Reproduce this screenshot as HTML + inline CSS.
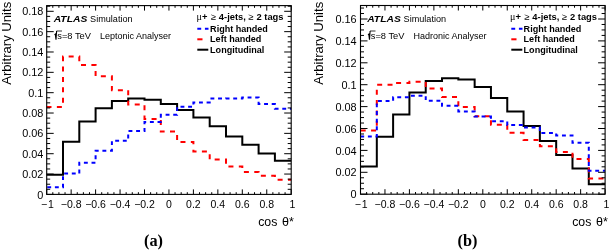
<!DOCTYPE html><html><head><meta charset="utf-8"><style>html,body{margin:0;padding:0;background:#fff;}body{width:610px;height:250px;overflow:hidden;}svg{display:block;will-change:transform;}text{font-family:"Liberation Sans", sans-serif;}.serif{font-family:"Liberation Serif", serif;}</style></head><body>
<svg width="610" height="250" viewBox="0 0 610 250">
<rect width="610" height="250" fill="#fff"/>
<path d="M46.7 174.8 L63 174.8 L63 141.8 L79.3 141.8 L79.3 121.6 L95.6 121.6 L95.6 108.2 L111.9 108.2 L111.9 100.9 L128.2 100.9 L128.2 98.6 L144.5 98.6 L144.5 99.8 L160.8 99.8 L160.8 104.1 L177.1 104.1 L177.1 110 L193.4 110 L193.4 117.6 L209.7 117.6 L209.7 126.2 L226 126.2 L226 136.4 L242.3 136.4 L242.3 144.8 L258.6 144.8 L258.6 153.4 L274.9 153.4 L274.9 160.7 L291.2 160.7" fill="none" stroke="#000" stroke-width="2"/>
<path d="M46.7 107 L63 107 L63 56.5 L79.3 56.5 L79.3 64.9 L95.6 64.9 L95.6 76.2 L111.9 76.2 L111.9 90.3 L128.2 90.3 L128.2 104.6 L144.5 104.6 L144.5 118.9 L160.8 118.9 L160.8 131.6 L177.1 131.6 L177.1 141.9 L193.4 141.9 L193.4 151.6 L209.7 151.6 L209.7 159.6 L226 159.6 L226 166.6 L242.3 166.6 L242.3 171.9 L258.6 171.9 L258.6 175.7 L274.9 175.7 L274.9 179.7 L291.2 179.7" fill="none" stroke="#ff0000" stroke-width="2" stroke-dasharray="5 5.38" stroke-dashoffset="83.25"/>
<path d="M46.7 187.2 L63 187.2 L63 173.6 L79.3 173.6 L79.3 162.8 L95.6 162.8 L95.6 150.8 L111.9 150.8 L111.9 140.7 L128.2 140.7 L128.2 131.1 L144.5 131.1 L144.5 122 L160.8 122 L160.8 114.8 L177.1 114.8 L177.1 106.8 L193.4 106.8 L193.4 102.4 L209.7 102.4 L209.7 98.6 L226 98.6 L226 98.5 L242.3 98.5 L242.3 97.6 L258.6 97.6 L258.6 104 L274.9 104 L274.9 108.7 L291.2 108.7" fill="none" stroke="#0000ff" stroke-width="2" stroke-dasharray="3.9 3.73" stroke-dashoffset="-0.55"/>
<rect x="46.7" y="5.6" width="244.5" height="188.8" fill="none" stroke="#000" stroke-width="1.1"/>
<path d="M46.7 194.4 V189.4 M46.7 5.6 V10.6 M52.81 194.4 V192.2 M52.81 5.6 V7.8 M58.92 194.4 V192.2 M58.92 5.6 V7.8 M65.04 194.4 V192.2 M65.04 5.6 V7.8 M71.15 194.4 V189.4 M71.15 5.6 V10.6 M77.26 194.4 V192.2 M77.26 5.6 V7.8 M83.38 194.4 V192.2 M83.38 5.6 V7.8 M89.49 194.4 V192.2 M89.49 5.6 V7.8 M95.6 194.4 V189.4 M95.6 5.6 V10.6 M101.71 194.4 V192.2 M101.71 5.6 V7.8 M107.83 194.4 V192.2 M107.83 5.6 V7.8 M113.94 194.4 V192.2 M113.94 5.6 V7.8 M120.05 194.4 V189.4 M120.05 5.6 V10.6 M126.16 194.4 V192.2 M126.16 5.6 V7.8 M132.28 194.4 V192.2 M132.28 5.6 V7.8 M138.39 194.4 V192.2 M138.39 5.6 V7.8 M144.5 194.4 V189.4 M144.5 5.6 V10.6 M150.61 194.4 V192.2 M150.61 5.6 V7.8 M156.73 194.4 V192.2 M156.73 5.6 V7.8 M162.84 194.4 V192.2 M162.84 5.6 V7.8 M168.95 194.4 V189.4 M168.95 5.6 V10.6 M175.06 194.4 V192.2 M175.06 5.6 V7.8 M181.18 194.4 V192.2 M181.18 5.6 V7.8 M187.29 194.4 V192.2 M187.29 5.6 V7.8 M193.4 194.4 V189.4 M193.4 5.6 V10.6 M199.51 194.4 V192.2 M199.51 5.6 V7.8 M205.62 194.4 V192.2 M205.62 5.6 V7.8 M211.74 194.4 V192.2 M211.74 5.6 V7.8 M217.85 194.4 V189.4 M217.85 5.6 V10.6 M223.96 194.4 V192.2 M223.96 5.6 V7.8 M230.07 194.4 V192.2 M230.07 5.6 V7.8 M236.19 194.4 V192.2 M236.19 5.6 V7.8 M242.3 194.4 V189.4 M242.3 5.6 V10.6 M248.41 194.4 V192.2 M248.41 5.6 V7.8 M254.53 194.4 V192.2 M254.53 5.6 V7.8 M260.64 194.4 V192.2 M260.64 5.6 V7.8 M266.75 194.4 V189.4 M266.75 5.6 V10.6 M272.86 194.4 V192.2 M272.86 5.6 V7.8 M278.98 194.4 V192.2 M278.98 5.6 V7.8 M285.09 194.4 V192.2 M285.09 5.6 V7.8 M291.2 194.4 V189.4 M291.2 5.6 V10.6 M46.7 194.4 H53.7 M291.2 194.4 H284.2 M46.7 189.31 H50.2 M291.2 189.31 H287.7 M46.7 184.23 H50.2 M291.2 184.23 H287.7 M46.7 179.14 H50.2 M291.2 179.14 H287.7 M46.7 174.06 H53.7 M291.2 174.06 H284.2 M46.7 168.97 H50.2 M291.2 168.97 H287.7 M46.7 163.88 H50.2 M291.2 163.88 H287.7 M46.7 158.8 H50.2 M291.2 158.8 H287.7 M46.7 153.71 H53.7 M291.2 153.71 H284.2 M46.7 148.63 H50.2 M291.2 148.63 H287.7 M46.7 143.54 H50.2 M291.2 143.54 H287.7 M46.7 138.45 H50.2 M291.2 138.45 H287.7 M46.7 133.37 H53.7 M291.2 133.37 H284.2 M46.7 128.28 H50.2 M291.2 128.28 H287.7 M46.7 123.2 H50.2 M291.2 123.2 H287.7 M46.7 118.11 H50.2 M291.2 118.11 H287.7 M46.7 113.02 H53.7 M291.2 113.02 H284.2 M46.7 107.94 H50.2 M291.2 107.94 H287.7 M46.7 102.85 H50.2 M291.2 102.85 H287.7 M46.7 97.77 H50.2 M291.2 97.77 H287.7 M46.7 92.68 H53.7 M291.2 92.68 H284.2 M46.7 87.59 H50.2 M291.2 87.59 H287.7 M46.7 82.51 H50.2 M291.2 82.51 H287.7 M46.7 77.42 H50.2 M291.2 77.42 H287.7 M46.7 72.34 H53.7 M291.2 72.34 H284.2 M46.7 67.25 H50.2 M291.2 67.25 H287.7 M46.7 62.16 H50.2 M291.2 62.16 H287.7 M46.7 57.08 H50.2 M291.2 57.08 H287.7 M46.7 51.99 H53.7 M291.2 51.99 H284.2 M46.7 46.91 H50.2 M291.2 46.91 H287.7 M46.7 41.82 H50.2 M291.2 41.82 H287.7 M46.7 36.73 H50.2 M291.2 36.73 H287.7 M46.7 31.65 H53.7 M291.2 31.65 H284.2 M46.7 26.56 H50.2 M291.2 26.56 H287.7 M46.7 21.48 H50.2 M291.2 21.48 H287.7 M46.7 16.39 H50.2 M291.2 16.39 H287.7 M46.7 11.3 H53.7 M291.2 11.3 H284.2 M46.7 6.22 H50.2 M291.2 6.22 H287.7" fill="none" stroke="#000" stroke-width="1"/>
<text x="47.4" y="207.8" font-size="10.5" text-anchor="middle">−<tspan dx="0.8">1</tspan></text>
<text x="71.15" y="207.8" font-size="10.5" text-anchor="middle">−0.8</text>
<text x="95.6" y="207.8" font-size="10.5" text-anchor="middle">−0.6</text>
<text x="120.05" y="207.8" font-size="10.5" text-anchor="middle">−0.4</text>
<text x="144.5" y="207.8" font-size="10.5" text-anchor="middle">−0.2</text>
<text x="168.95" y="207.8" font-size="10.5" text-anchor="middle">0</text>
<text x="193.4" y="207.8" font-size="10.5" text-anchor="middle">0.2</text>
<text x="217.85" y="207.8" font-size="10.5" text-anchor="middle">0.4</text>
<text x="242.3" y="207.8" font-size="10.5" text-anchor="middle">0.6</text>
<text x="266.75" y="207.8" font-size="10.5" text-anchor="middle">0.8</text>
<text x="292.5" y="207.8" font-size="10.5" text-anchor="middle">1</text>
<text x="43.4" y="198.5" font-size="10.9" text-anchor="end">0</text>
<text x="43.4" y="178.16" font-size="10.9" text-anchor="end">0.02</text>
<text x="43.4" y="157.81" font-size="10.9" text-anchor="end">0.04</text>
<text x="43.4" y="137.47" font-size="10.9" text-anchor="end">0.06</text>
<text x="43.4" y="117.12" font-size="10.9" text-anchor="end">0.08</text>
<text x="43.4" y="96.78" font-size="10.9" text-anchor="end">0.1</text>
<text x="43.4" y="76.44" font-size="10.9" text-anchor="end">0.12</text>
<text x="43.4" y="56.09" font-size="10.9" text-anchor="end">0.14</text>
<text x="43.4" y="35.75" font-size="10.9" text-anchor="end">0.16</text>
<text x="43.4" y="15.4" font-size="10.9" text-anchor="end">0.18</text>
<text y="225.6" font-size="12.3"><tspan x="258.2">cos</tspan><tspan x="282.1" font-size="12.5">θ*</tspan></text>
<text transform="translate(10.8,1.8) rotate(-90)" font-size="13.1" text-anchor="end">Arbitrary Units</text>
<text x="53.7" y="21.8" font-size="9.4" font-weight="bold" font-style="italic" textLength="33.6" lengthAdjust="spacingAndGlyphs">ATLAS</text>
<text x="90.1" y="21.8" font-size="9.1">Simulation</text>
<path d="M54.5 34.9 L55.3 34.2 L56 39.8 L56.6 31" fill="none" stroke="#000" stroke-width="1.1" stroke-linejoin="miter"/>
<path d="M56.5 31 H62" fill="none" stroke="#000" stroke-width="0.8"/>
<text x="57.3" y="38.7" font-size="9.3">s=8 TeV</text>
<text x="100" y="38.7" font-size="9">Leptonic Analyser</text>
<text x="196.5" y="19.6" font-size="9.35" font-weight="bold"><tspan class="serif" font-weight="normal" font-size="10">μ</tspan>+ <tspan font-weight="normal" dx="0.8">≥</tspan><tspan dx="0.4"> 4-jets, </tspan><tspan font-weight="normal" dx="-0.3">≥</tspan><tspan dx="0.6"> 2 tags</tspan></text>
<path d="M197.3 28.7 H208.5" stroke="#0000ff" stroke-width="2" stroke-dasharray="3.9 3.725"/>
<path d="M197.3 39.3 H202.5" stroke="#ff0000" stroke-width="2"/>
<path d="M197.3 49.7 H208.3" stroke="#000" stroke-width="2"/>
<text x="210.1" y="31.5" font-size="9.05" font-weight="bold">Right handed</text>
<text x="210.1" y="41.9" font-size="9.05" font-weight="bold">Left handed</text>
<text x="210.1" y="52.5" font-size="9.05" font-weight="bold">Longitudinal</text>
<text x="153.5" y="246.2" font-size="16.3" font-weight="bold" class="serif" text-anchor="middle">(a)</text>
<path d="M360.5 166.6 L376.81 166.6 L376.81 136.8 L393.11 136.8 L393.11 114.6 L409.42 114.6 L409.42 92.4 L425.73 92.4 L425.73 81 L442.03 81 L442.03 78.2 L458.34 78.2 L458.34 79.6 L474.65 79.6 L474.65 87.1 L490.95 87.1 L490.95 98 L507.26 98 L507.26 111.4 L523.57 111.4 L523.57 126.1 L539.87 126.1 L539.87 140.9 L556.18 140.9 L556.18 154.9 L572.49 154.9 L572.49 168.5 L588.79 168.5 L588.79 184.2 L605.1 184.2" fill="none" stroke="#000" stroke-width="2"/>
<path d="M360.5 130.4 L376.81 130.4 L376.81 84.7 L393.11 84.7 L393.11 82.9 L409.42 82.9 L409.42 81.7 L425.73 81.7 L425.73 88.5 L442.03 88.5 L442.03 97.1 L458.34 97.1 L458.34 107 L474.65 107 L474.65 116.3 L490.95 116.3 L490.95 124.8 L507.26 124.8 L507.26 132.8 L523.57 132.8 L523.57 139.9 L539.87 139.9 L539.87 146.3 L556.18 146.3 L556.18 152 L572.49 152 L572.49 159.1 L588.79 159.1 L588.79 178.6 L605.1 178.6" fill="none" stroke="#ff0000" stroke-width="2" stroke-dasharray="5 5.36" stroke-dashoffset="61.95"/>
<path d="M360.5 136.6 L376.81 136.6 L376.81 100.9 L393.11 100.9 L393.11 97.3 L409.42 97.3 L409.42 95.7 L425.73 95.7 L425.73 100.7 L442.03 100.7 L442.03 105.8 L458.34 105.8 L458.34 111.4 L474.65 111.4 L474.65 116.6 L490.95 116.6 L490.95 121.3 L507.26 121.3 L507.26 125.1 L523.57 125.1 L523.57 127.6 L539.87 127.6 L539.87 133.1 L556.18 133.1 L556.18 135.4 L572.49 135.4 L572.49 142.7 L588.79 142.7 L588.79 170.8 L605.1 170.8" fill="none" stroke="#0000ff" stroke-width="2" stroke-dasharray="3.9 3.73" stroke-dashoffset="53.65"/>
<rect x="360.5" y="5.5" width="244.6" height="188.7" fill="none" stroke="#000" stroke-width="1.1"/>
<path d="M360.5 194.2 V189.2 M360.5 5.5 V10.5 M366.62 194.2 V192 M366.62 5.5 V7.7 M372.73 194.2 V192 M372.73 5.5 V7.7 M378.85 194.2 V192 M378.85 5.5 V7.7 M384.96 194.2 V189.2 M384.96 5.5 V10.5 M391.07 194.2 V192 M391.07 5.5 V7.7 M397.19 194.2 V192 M397.19 5.5 V7.7 M403.31 194.2 V192 M403.31 5.5 V7.7 M409.42 194.2 V189.2 M409.42 5.5 V10.5 M415.53 194.2 V192 M415.53 5.5 V7.7 M421.65 194.2 V192 M421.65 5.5 V7.7 M427.76 194.2 V192 M427.76 5.5 V7.7 M433.88 194.2 V189.2 M433.88 5.5 V10.5 M440 194.2 V192 M440 5.5 V7.7 M446.11 194.2 V192 M446.11 5.5 V7.7 M452.23 194.2 V192 M452.23 5.5 V7.7 M458.34 194.2 V189.2 M458.34 5.5 V10.5 M464.46 194.2 V192 M464.46 5.5 V7.7 M470.57 194.2 V192 M470.57 5.5 V7.7 M476.69 194.2 V192 M476.69 5.5 V7.7 M482.8 194.2 V189.2 M482.8 5.5 V10.5 M488.92 194.2 V192 M488.92 5.5 V7.7 M495.03 194.2 V192 M495.03 5.5 V7.7 M501.15 194.2 V192 M501.15 5.5 V7.7 M507.26 194.2 V189.2 M507.26 5.5 V10.5 M513.38 194.2 V192 M513.38 5.5 V7.7 M519.49 194.2 V192 M519.49 5.5 V7.7 M525.61 194.2 V192 M525.61 5.5 V7.7 M531.72 194.2 V189.2 M531.72 5.5 V10.5 M537.84 194.2 V192 M537.84 5.5 V7.7 M543.95 194.2 V192 M543.95 5.5 V7.7 M550.07 194.2 V192 M550.07 5.5 V7.7 M556.18 194.2 V189.2 M556.18 5.5 V10.5 M562.3 194.2 V192 M562.3 5.5 V7.7 M568.41 194.2 V192 M568.41 5.5 V7.7 M574.53 194.2 V192 M574.53 5.5 V7.7 M580.64 194.2 V189.2 M580.64 5.5 V10.5 M586.75 194.2 V192 M586.75 5.5 V7.7 M592.87 194.2 V192 M592.87 5.5 V7.7 M598.99 194.2 V192 M598.99 5.5 V7.7 M605.1 194.2 V189.2 M605.1 5.5 V10.5 M360.5 194.2 H367.5 M605.1 194.2 H598.1 M360.5 188.72 H364 M605.1 188.72 H601.6 M360.5 183.25 H364 M605.1 183.25 H601.6 M360.5 177.77 H364 M605.1 177.77 H601.6 M360.5 172.3 H367.5 M605.1 172.3 H598.1 M360.5 166.82 H364 M605.1 166.82 H601.6 M360.5 161.35 H364 M605.1 161.35 H601.6 M360.5 155.88 H364 M605.1 155.88 H601.6 M360.5 150.4 H367.5 M605.1 150.4 H598.1 M360.5 144.92 H364 M605.1 144.92 H601.6 M360.5 139.45 H364 M605.1 139.45 H601.6 M360.5 133.97 H364 M605.1 133.97 H601.6 M360.5 128.5 H367.5 M605.1 128.5 H598.1 M360.5 123.02 H364 M605.1 123.02 H601.6 M360.5 117.55 H364 M605.1 117.55 H601.6 M360.5 112.07 H364 M605.1 112.07 H601.6 M360.5 106.6 H367.5 M605.1 106.6 H598.1 M360.5 101.12 H364 M605.1 101.12 H601.6 M360.5 95.65 H364 M605.1 95.65 H601.6 M360.5 90.17 H364 M605.1 90.17 H601.6 M360.5 84.7 H367.5 M605.1 84.7 H598.1 M360.5 79.22 H364 M605.1 79.22 H601.6 M360.5 73.75 H364 M605.1 73.75 H601.6 M360.5 68.27 H364 M605.1 68.27 H601.6 M360.5 62.8 H367.5 M605.1 62.8 H598.1 M360.5 57.32 H364 M605.1 57.32 H601.6 M360.5 51.85 H364 M605.1 51.85 H601.6 M360.5 46.37 H364 M605.1 46.37 H601.6 M360.5 40.9 H367.5 M605.1 40.9 H598.1 M360.5 35.43 H364 M605.1 35.43 H601.6 M360.5 29.95 H364 M605.1 29.95 H601.6 M360.5 24.47 H364 M605.1 24.47 H601.6 M360.5 19 H367.5 M605.1 19 H598.1 M360.5 13.52 H364 M605.1 13.52 H601.6 M360.5 8.05 H364 M605.1 8.05 H601.6" fill="none" stroke="#000" stroke-width="1"/>
<text x="361.2" y="207.8" font-size="10.5" text-anchor="middle">−<tspan dx="0.8">1</tspan></text>
<text x="384.96" y="207.8" font-size="10.5" text-anchor="middle">−0.8</text>
<text x="409.42" y="207.8" font-size="10.5" text-anchor="middle">−0.6</text>
<text x="433.88" y="207.8" font-size="10.5" text-anchor="middle">−0.4</text>
<text x="458.34" y="207.8" font-size="10.5" text-anchor="middle">−0.2</text>
<text x="482.8" y="207.8" font-size="10.5" text-anchor="middle">0</text>
<text x="507.26" y="207.8" font-size="10.5" text-anchor="middle">0.2</text>
<text x="531.72" y="207.8" font-size="10.5" text-anchor="middle">0.4</text>
<text x="556.18" y="207.8" font-size="10.5" text-anchor="middle">0.6</text>
<text x="580.64" y="207.8" font-size="10.5" text-anchor="middle">0.8</text>
<text x="606.4" y="207.8" font-size="10.5" text-anchor="middle">1</text>
<text x="356.6" y="198.3" font-size="10.9" text-anchor="end">0</text>
<text x="356.6" y="176.4" font-size="10.9" text-anchor="end">0.02</text>
<text x="356.6" y="154.5" font-size="10.9" text-anchor="end">0.04</text>
<text x="356.6" y="132.6" font-size="10.9" text-anchor="end">0.06</text>
<text x="356.6" y="110.7" font-size="10.9" text-anchor="end">0.08</text>
<text x="356.6" y="88.8" font-size="10.9" text-anchor="end">0.1</text>
<text x="356.6" y="66.9" font-size="10.9" text-anchor="end">0.12</text>
<text x="356.6" y="45" font-size="10.9" text-anchor="end">0.14</text>
<text x="356.6" y="23.1" font-size="10.9" text-anchor="end">0.16</text>
<text y="225.6" font-size="12.3"><tspan x="572.2">cos</tspan><tspan x="596.1" font-size="12.5">θ*</tspan></text>
<text transform="translate(323.3,1.8) rotate(-90)" font-size="13.1" text-anchor="end">Arbitrary Units</text>
<text x="367.2" y="21.8" font-size="9.4" font-weight="bold" font-style="italic" textLength="33.6" lengthAdjust="spacingAndGlyphs">ATLAS</text>
<text x="403.6" y="21.8" font-size="9.1">Simulation</text>
<path d="M368 34.9 L368.8 34.2 L369.5 39.8 L370.1 31" fill="none" stroke="#000" stroke-width="1.1" stroke-linejoin="miter"/>
<path d="M370 31 H375.5" fill="none" stroke="#000" stroke-width="0.8"/>
<text x="370.8" y="38.7" font-size="9.3">s=8 TeV</text>
<text x="413.5" y="38.7" font-size="9">Hadronic Analyser</text>
<text x="510" y="19.6" font-size="9.35" font-weight="bold"><tspan class="serif" font-weight="normal" font-size="10">μ</tspan>+ <tspan font-weight="normal" dx="0.8">≥</tspan><tspan dx="0.4"> 4-jets, </tspan><tspan font-weight="normal" dx="-0.3">≥</tspan><tspan dx="0.6"> 2 tags</tspan></text>
<path d="M511.3 28.7 H522.5" stroke="#0000ff" stroke-width="2" stroke-dasharray="3.9 3.725"/>
<path d="M511.3 39.3 H516.5" stroke="#ff0000" stroke-width="2"/>
<path d="M511.3 49.7 H522.3" stroke="#000" stroke-width="2"/>
<text x="523.6" y="31.5" font-size="9.05" font-weight="bold">Right handed</text>
<text x="523.6" y="41.9" font-size="9.05" font-weight="bold">Left handed</text>
<text x="523.6" y="52.5" font-size="9.05" font-weight="bold">Longitudinal</text>
<text x="467.5" y="246.2" font-size="16.3" font-weight="bold" class="serif" text-anchor="middle">(b)</text>
</svg></body></html>
